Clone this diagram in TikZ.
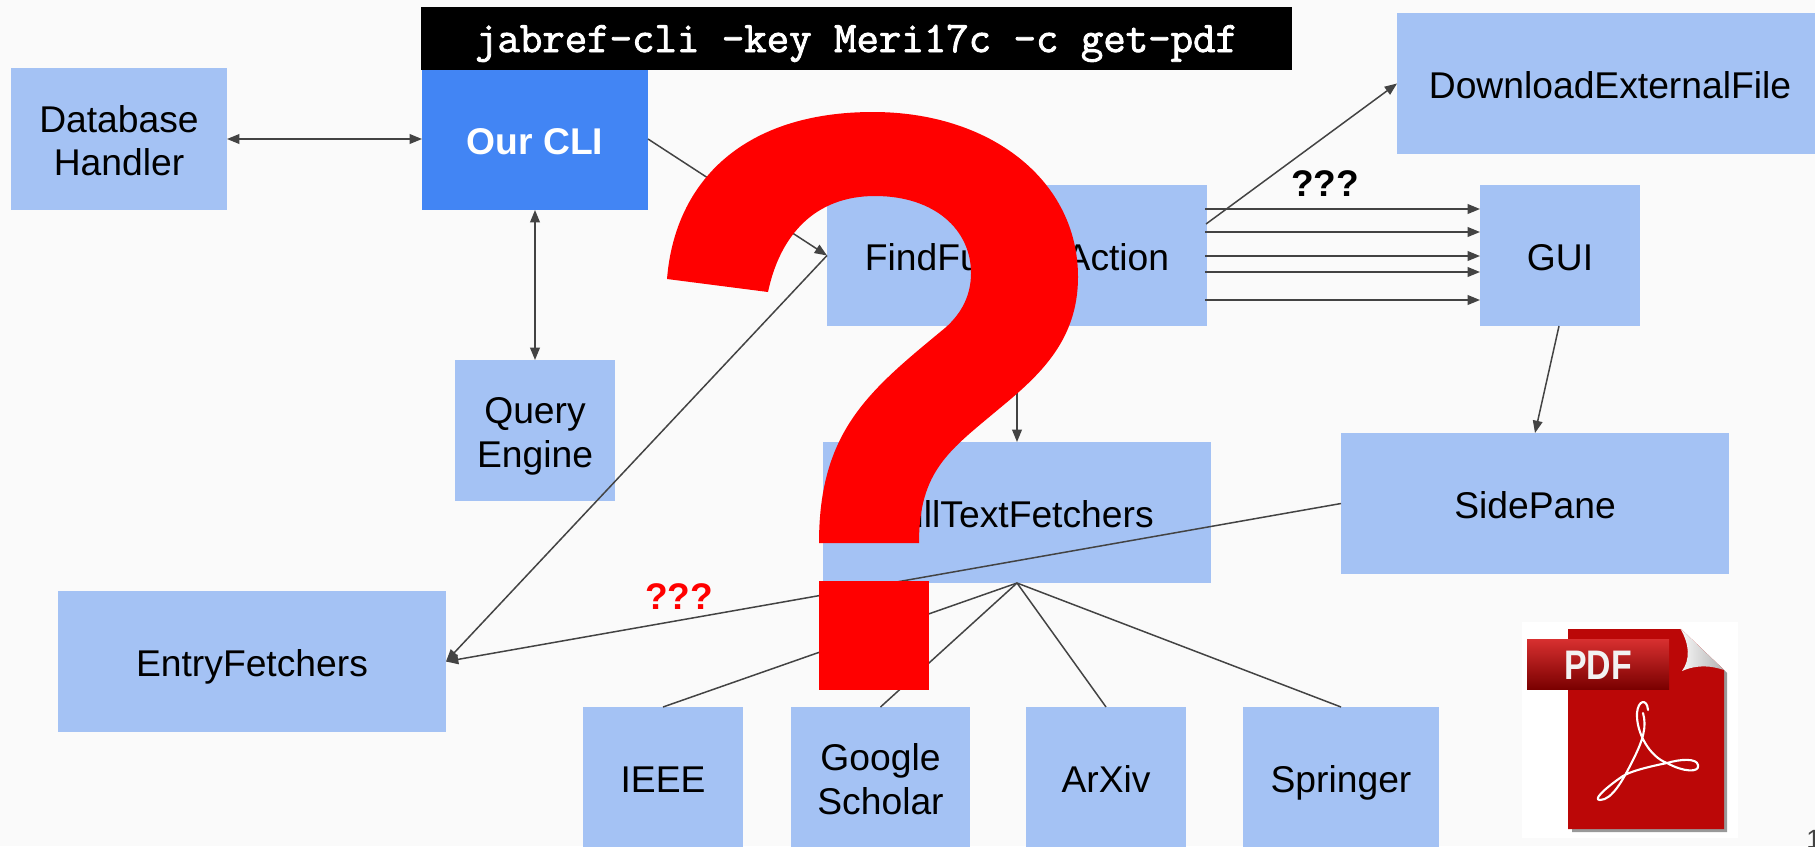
\documentclass[tikz,border=0pt]{standalone}
\usepackage{fontspec}
\usepackage{graphicx}
\setmainfont{Liberation Sans}
\newfontfamily\cmdfont[FakeBold=2]{Latin Modern Mono}
\usetikzlibrary{arrows.meta}
\definecolor{bgc}{HTML}{FAFAFA}
\definecolor{boxc}{HTML}{A4C2F4}
\definecolor{clic}{HTML}{4285F4}
\definecolor{linec}{HTML}{434343}
\definecolor{pdfred}{HTML}{BB0707}
\definecolor{banhi}{HTML}{D83030}
\definecolor{banmid}{HTML}{C80808}
\definecolor{banlo}{HTML}{7A0000}
\newcommand{\lbl}[1]{\raisebox{0pt}[17.1pt][0pt]{#1}}
\tikzset{
  x=0.02cm,y=-0.02cm,
  txt/.style={font=\fontsize{21.2}{25}\selectfont,align=center,text=black},
  wh/.style 2 args={minimum width=#1*0.02cm,minimum height=#2*0.02cm,inner sep=0pt,outer sep=0pt},
  bluebox/.style={fill=boxc,draw=none,txt},
  clibox/.style={fill=clic,draw=none,txt,text=white,font=\fontsize{21.2}{25}\selectfont\bfseries},
  cmdbox/.style={fill=black,draw=none,text=white,font=\fontsize{24.8}{25}\cmdfont},
  conn/.style={draw=linec,line width=0.85pt},
  arr/.style={conn,-{Triangle[length=7pt,width=5.5pt]}},
  biarr/.style={conn,{Triangle[length=7pt,width=5.5pt]}-{Triangle[length=7pt,width=5.5pt]}},
  qmark/.style={font=\fontsize{21.1}{25}\selectfont\bfseries},
}
\begin{document}
\begin{tikzpicture}
\useasboundingbox (0,0) rectangle (1815,846);
\fill[bgc] (0,0) rectangle (1815,846);
% boxes
\node[bluebox,wh={216}{142}] (db) at (119,139) {\lbl{Database}\\\lbl{Handler}};
\node[clibox,wh={226}{142}] (cli) at (535,139) {\lbl{Our CLI}};
\node[cmdbox,wh={871}{63}] (cmd) at (856.5,38.5) {\raisebox{-7.7pt}[10pt][10pt]{jabref-cli -key Meri17c -c get-pdf}};
\node[bluebox,wh={160}{141}] (query) at (535,430.5) {\lbl{Query}\\\lbl{Engine}};
\node[bluebox,wh={380}{141}] (find) at (1017,255.5) {\lbl{FindFullTextAction}};
\node[bluebox,wh={388}{141}] (fetch) at (1017,512.5) {\lbl{FullTextFetchers}};
\node[bluebox,wh={426}{141}] (dl) at (1610,83.5) {\lbl{DownloadExternalFile}};
\node[bluebox,wh={160}{141}] (gui) at (1560,255.5) {\lbl{GUI}};
\node[bluebox,wh={388}{141}] (side) at (1535,503.5) {\lbl{SidePane}};
\node[bluebox,wh={388}{141}] (entry) at (252,661.5) {\lbl{EntryFetchers}};
\node[bluebox,wh={160}{141}] (ieee) at (663,777.5) {\lbl{IEEE}};
\node[bluebox,wh={179}{141}] (google) at (880.5,777.5) {\lbl{Google}\\\lbl{Scholar}};
\node[bluebox,wh={160}{141}] (arxiv) at (1106,777.5) {\lbl{ArXiv}};
\node[bluebox,wh={196}{141}] (spr) at (1341,777.5) {\lbl{Springer}};
% connector levels
\coordinate (g1) at (1205,209);
\coordinate (g2) at (1205,232);
\coordinate (g3) at (1205,256);
\coordinate (g4) at (1205,272);
\coordinate (g5) at (1205,300);
\coordinate (ga) at (1559,326);
\coordinate (sa) at (1535,433);
\coordinate (fa) at (1206,224);
% connectors
\draw[biarr] (db.east) -- (cli.west);
\draw[biarr] (cli.south) -- (query.north);
\draw[arr] (cli.east) -- (find.west);
\draw[arr] (find.west) -- (entry.east);
\draw[arr] (side.west) -- (entry.east);
\draw[arr] (find.south) -- (fetch.north);
\draw[conn] (fetch.south) -- (ieee.north);
\draw[conn] (fetch.south) -- (google.north);
\draw[conn] (fetch.south) -- (arxiv.north);
\draw[conn] (fetch.south) -- (spr.north);
\draw[arr] (fa) -- (dl.west);
\foreach \g in {g1,g2,g3,g4,g5}{\draw[arr] (\g) -- (gui.west |- \g);}
\draw[arr] (ga) -- (sa);
% labels
\node[qmark,text=black,inner sep=0pt] (q1) at (1325,184) {???};
\node[qmark,text=red,inner sep=0pt] (q2) at (679,597) {???};
% big question mark
\fill[red] (667,279) .. controls (675,180) and (745,112) .. (873,112)
  .. controls (990,112) and (1078,180) .. (1078,277)
  .. controls (1078,340) and (1040,375) .. (1000,408)
  .. controls (950,450) and (919,470) .. (919,543)
  -- (819,543)
  .. controls (819,430) and (870,390) .. (945,328)
  .. controls (962,313) and (971,295) .. (971,273)
  .. controls (971,230) and (935,196) .. (875,196)
  .. controls (815,196) and (780,235) .. (768,292) -- cycle;
\fill[red] (819,581) rectangle (929,690);
% pdf icon
\fill[white] (1522,622) rectangle (1738,838);
\fill[black!40] (1572,829) -- (1572,832) -- (1727,832) -- (1727,673) -- (1724,670) -- (1724,829) -- cycle;
\fill[pdfred] (1568,629) -- (1681,629) -- (1724,670) -- (1724,829) -- (1568,829) -- cycle;
\shade[left color=black!3,right color=black!30] (1680,628) .. controls (1690,645) and (1690,660) .. (1682,671) .. controls (1698,664) and (1712,666) .. (1724,670) -- cycle;
\shade[top color=banhi,middle color=banmid,bottom color=banlo] (1527,639) rectangle (1669,689);
\node[text=white!95!black,font=\fontsize{23.5}{25}\selectfont\bfseries,inner sep=0pt] (pdf) at (1598,665) {\scalebox{0.82}[1]{PDF}};
\draw[white,line width=1.2pt,line cap=round,line join=round]
  (1648,710) .. controls (1647,698) and (1638,700) .. (1637,713)
  .. controls (1636,733) and (1650,757) .. (1667,763)
  .. controls (1683,772) and (1700,773) .. (1698,765)
  .. controls (1697,758) and (1680,759) .. (1667,763)
  .. controls (1647,767) and (1627,772) .. (1620,778)
  .. controls (1603,790) and (1593,800) .. (1600,800)
  .. controls (1612,800) and (1623,780) .. (1633,760)
  .. controls (1643,740) and (1647,727) .. (1643,713);
\node[text=linec,font=\fontsize{15}{18}\selectfont,anchor=base west,inner sep=0pt] (page) at (1806,848) {1};
\end{tikzpicture}
\end{document}
